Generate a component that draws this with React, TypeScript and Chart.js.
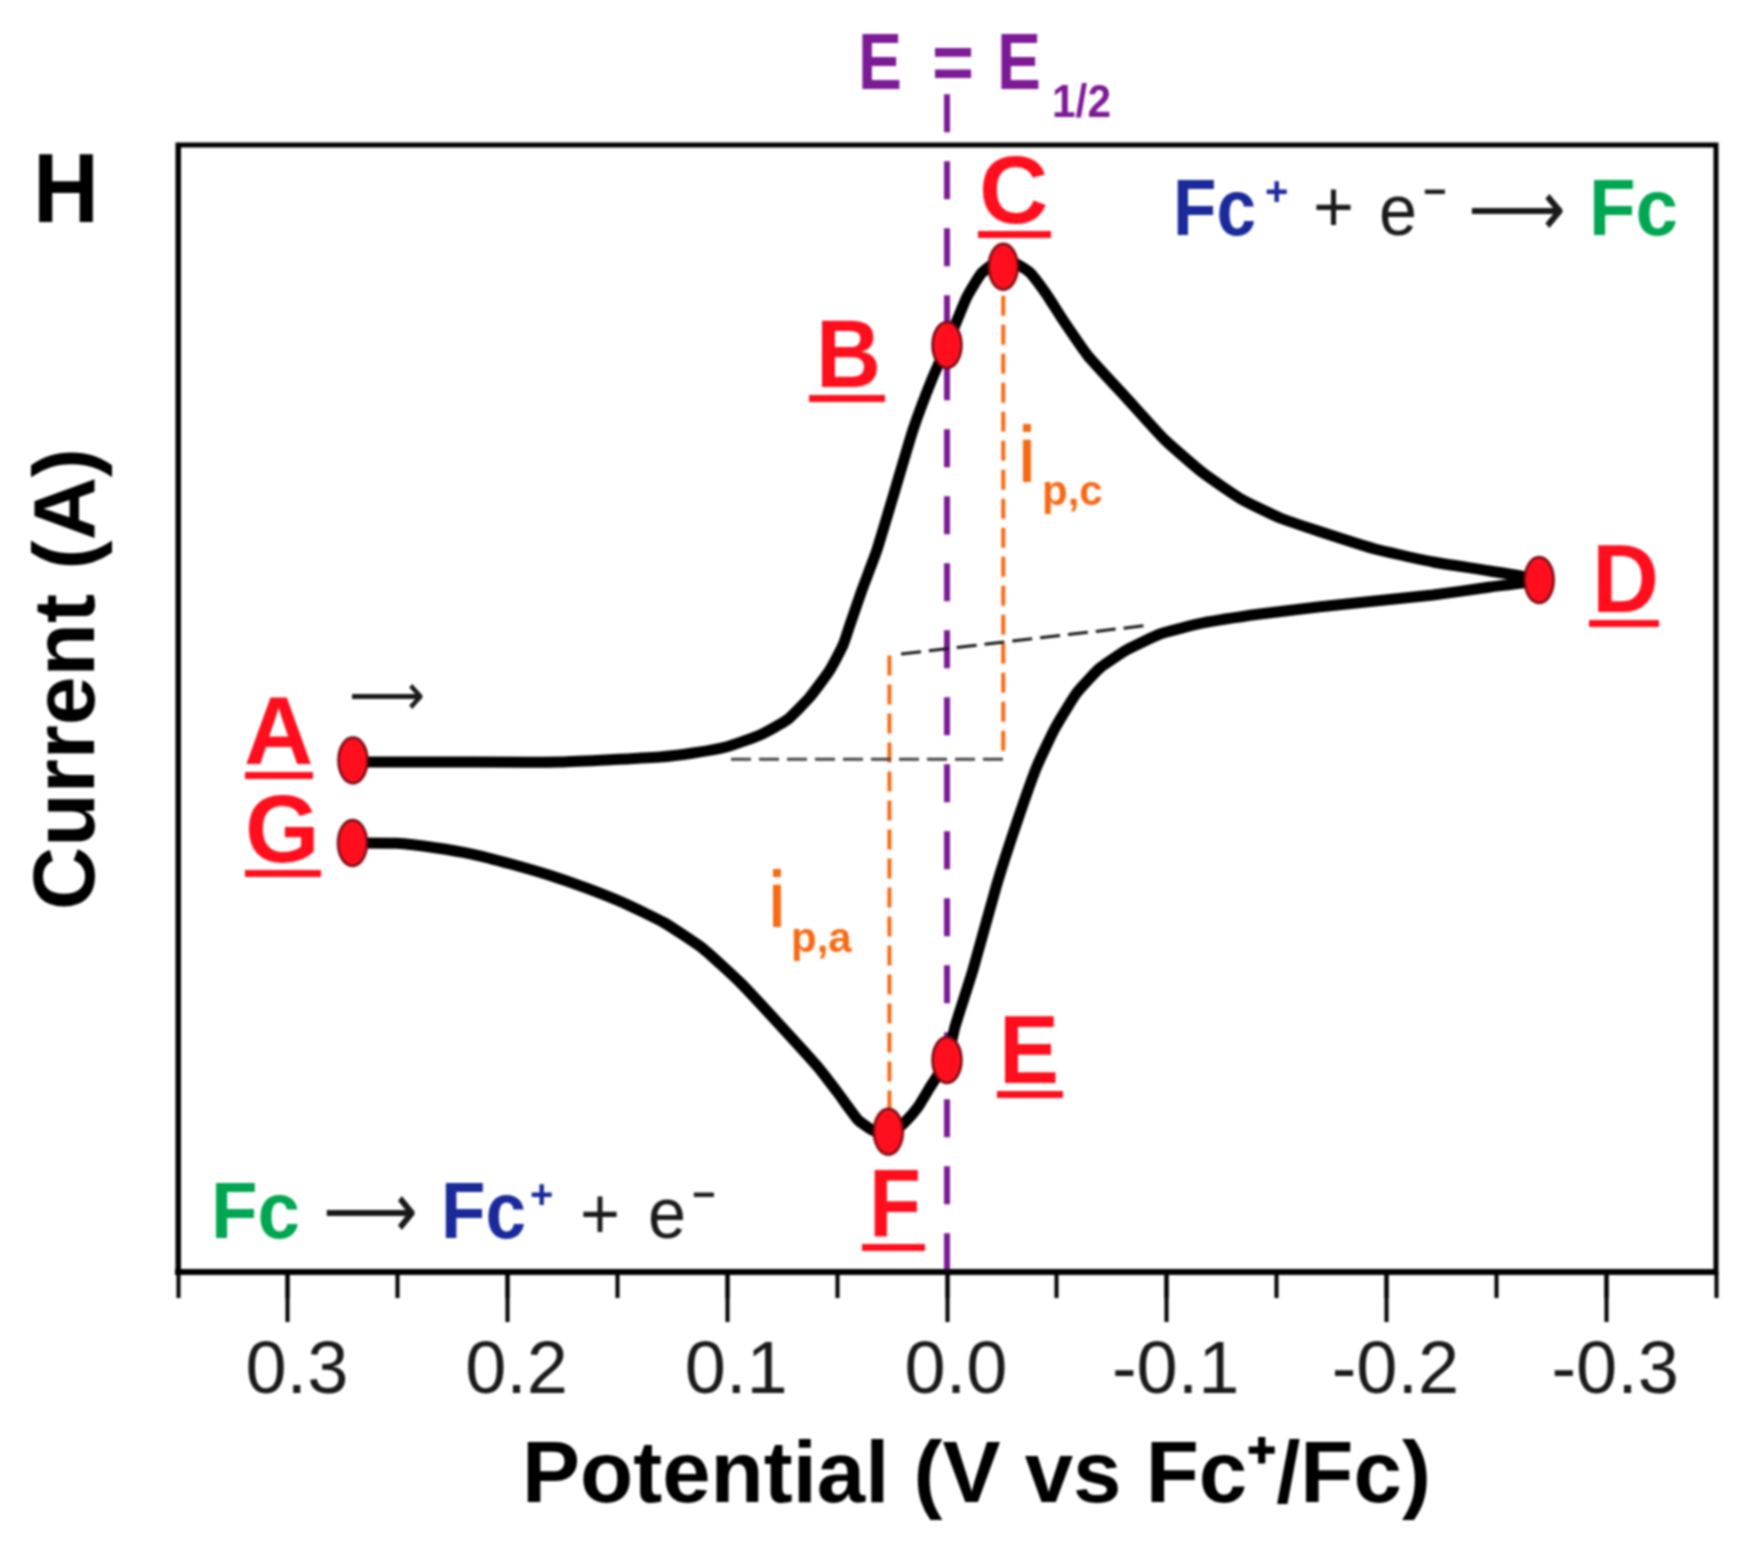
import React, { useEffect, useRef } from 'react'
import Chart from 'chart.js/auto'

// forward scan, A to D, then the return scan back to G
const cvPotential = [
  0.2704, 0.2262, 0.1762, 0.1306, 0.1156, 0.1001, 0.0851, 0.0728, 0.0624, 0.0533, 0.0473, 0.0442, 0.0387, 0.0319,
  0.0246, 0.0155, 0.007, 0, -0.009, -0.0158, -0.0256, -0.0373, -0.0449, -0.0528, -0.0642, -0.0817, -0.0992, -0.1165,
  -0.1338, -0.1516, -0.1689, -0.1948, -0.2212, -0.2472, -0.2695,
  -0.2472, -0.2212, -0.1948, -0.1689, -0.1425, -0.1165, -0.097, -0.0817, -0.0696, -0.059, -0.0492, -0.0408, -0.0317,
  -0.0226, -0.0118, -0.0036, 0, 0.0077, 0.0132, 0.0191, 0.0267, 0.0341, 0.0405, 0.0496, 0.0589, 0.0765, 0.0938,
  0.1112, 0.1288, 0.1461, 0.1634, 0.1809, 0.1985, 0.2157, 0.233, 0.2506, 0.2706
]
const cvCurrent = [
  45.25, 45.25, 45.25, 45.7, 46.05, 46.61, 47.65, 48.98, 51.02, 53.42, 55.63, 57.41, 60.51, 64.06,
  68.77, 74.71, 79.15, 82.25, 86.5, 88.64, 89.98, 88.76, 86.87, 84.47, 81.28, 77.55, 73.82, 70.9,
  68.59, 66.9, 65.75, 64.15, 63.0, 62.2, 61.4,
  60.78, 60.07, 59.54, 59.0, 58.38, 57.59, 56.61, 55.19, 53.59, 51.38, 48.27, 44.81, 39.84,
  34.34, 26.8, 21.74, 18.81, 16.41, 14.64, 13.31, 12.07, 12.6, 13.49, 15.88, 18.22, 22.01, 25.62,
  28.72, 31.0, 32.65, 34.01, 35.2, 36.2, 37.06, 37.65, 38.04, 38.07
]

const pointNames = ['A', 'B', 'C', 'D', 'E', 'F', 'G']
const pointPotential = [0.2704, 0, -0.0256, -0.2695, 0, 0.0267, 0.2706]
const pointCurrent = [45.4, 82.25, 89.2, 61.4, 18.81, 12.45, 38.07]

const halfWavePotential = [0, 0]
const halfWaveCurrent = [104.5, 0]

const peakCathodicPotential = [-0.0256, -0.0256]
const peakCathodicCurrent = [89.2, 45.5]
const peakAnodicPotential = [0.0262, 0.0262]
const peakAnodicCurrent = [54.7, 12.45]

const baselineForwardPotential = [0.0983, -0.0287]
const baselineForwardCurrent = [45.5, 45.5]
const baselineReturnPotential = [0.0209, -0.0924]
const baselineReturnCurrent = [54.84, 57.4]

const tickValues = [0.3, 0.2, 0.1, 0, -0.1, -0.2, -0.3]

const RED = '#ff0f1e'
const PURPLE = '#7d1a95'
const ORANGE = '#f56a14'
const BLUE = '#1a2a9a'
const GREEN = '#00a651'
const INK = '#1a1a1a'
const SANS = '"Liberation Sans", Arial, sans-serif'

const texts = [
  { t: 'H', x: 33, y: 222, size: 98, w: 66, bold: true, color: '#000' },
  { t: 'E', x: 858, y: 89, size: 80, w: 44, bold: true, color: PURPLE },
  { t: '=', x: 932, y: 89, size: 80, w: 42, bold: true, color: PURPLE },
  { t: 'E', x: 997, y: 89, size: 80, w: 44, bold: true, color: PURPLE },
  { t: '1/2', x: 1052, y: 117, size: 46, w: 59, bold: true, color: PURPLE },

  { t: 'Fc', x: 1173, y: 235, size: 79, w: 83, bold: true, color: BLUE },
  { t: '+', x: 1265, y: 205, size: 40, w: 24, bold: true, color: BLUE },
  { t: '+', x: 1313, y: 231, size: 72, w: 41, bold: false, color: INK },
  { t: 'e', x: 1379, y: 235, size: 72, w: 38, bold: false, color: INK },
  { t: '\u2212', x: 1423, y: 205, size: 40, w: 24, bold: true, color: INK },
  { t: '\u27f6', x: 1468, y: 236, size: 80, w: 98, bold: false, color: INK },
  { t: 'Fc', x: 1589, y: 235, size: 79, w: 89, bold: true, color: GREEN },

  { t: 'Fc', x: 211, y: 1238, size: 79, w: 89, bold: true, color: GREEN },
  { t: '\u27f6', x: 323, y: 1238, size: 80, w: 95, bold: false, color: INK },
  { t: 'Fc', x: 441, y: 1238, size: 79, w: 85, bold: true, color: BLUE },
  { t: '+', x: 530, y: 1208, size: 40, w: 24, bold: true, color: BLUE },
  { t: '+', x: 580, y: 1238, size: 72, w: 40, bold: false, color: INK },
  { t: 'e', x: 648, y: 1238, size: 72, w: 38, bold: false, color: INK },
  { t: '\u2212', x: 692, y: 1208, size: 40, w: 25, bold: true, color: INK },

  { t: '\u27f6', x: 349, y: 715, size: 60, w: 76, bold: false, color: INK },

  { t: 'i', x: 1019, y: 482, size: 80, w: 16, bold: true, color: ORANGE },
  { t: 'p,c', x: 1042, y: 505, size: 42, w: 61, bold: true, color: ORANGE },
  { t: 'i', x: 769, y: 927, size: 80, w: 16, bold: true, color: ORANGE },
  { t: 'p,a', x: 791, y: 952, size: 42, w: 63, bold: true, color: ORANGE },

  { t: 'Potential (V vs Fc\u207a/Fc)', x: 522, y: 1502, size: 87, w: 926, bold: true, color: '#000' }
]

// letter and underline of each labelled point, same order as pointNames
const letters = [
  { x: 244, y: 764, w: 74, u0: 245, u1: 313 },
  { x: 816, y: 387, w: 65, u0: 809, u1: 885 },
  { x: 979, y: 223, w: 70, u0: 978, u1: 1051 },
  { x: 1592, y: 612, w: 67, u0: 1589, u1: 1659 },
  { x: 999, y: 1083, w: 60, u0: 997, u1: 1063 },
  { x: 869, y: 1236, w: 52, u0: 862, u1: 925 },
  { x: 245, y: 862, w: 75, u0: 245, u1: 321 }
]

const frameAndText = {
  id: 'frameAndText',
  afterDatasetsDraw(chart: Chart) {
    const { ctx, chartArea: a } = chart
    ctx.save()

    ctx.strokeStyle = '#000'
    ctx.lineWidth = 5
    ctx.strokeRect(a.left, a.top, a.right - a.left, a.bottom - a.top)

    ctx.textAlign = 'left'
    ctx.textBaseline = 'alphabetic'
    for (const it of texts) {
      ctx.font = `${it.bold ? 'bold ' : ''}${it.size}px ${SANS}`
      ctx.fillStyle = it.color
      ctx.fillText(it.t, it.x, it.y, it.w)
    }

    pointNames.forEach((name, i) => {
      const l = letters[i]
      ctx.font = `bold 96px ${SANS}`
      ctx.fillStyle = RED
      ctx.fillText(name, l.x, l.y, l.w)
      ctx.fillRect(l.u0, l.y + 8, l.u1 - l.u0, 7)
    })

    ctx.translate(94, 910)
    ctx.rotate(-Math.PI / 2)
    ctx.font = `bold 88px ${SANS}`
    ctx.fillStyle = '#000'
    ctx.fillText('Current (A)', 0, 0, 462)

    ctx.restore()
  }
}

function ellipseMarker() {
  const c = document.createElement('canvas')
  c.width = 36
  c.height = 52
  const g = c.getContext('2d')!
  g.beginPath()
  g.ellipse(18, 26, 14.5, 23, 0, 0, Math.PI * 2)
  g.fillStyle = RED
  g.fill()
  g.lineWidth = 2.5
  g.strokeStyle = '#7a0a12'
  g.stroke()
  return c
}

const toXY = (xs: number[], ys: number[]) => xs.map((x, i) => ({ x, y: ys[i] }))

export default function App() {
  const ref = useRef<HTMLCanvasElement | null>(null)

  useEffect(() => {
    if (!ref.current) return
    const chart = new Chart(ref.current, {
      type: 'scatter',
      data: {
        // first dataset ends up on top
        datasets: [
          {
            label: 'points',
            data: toXY(pointPotential, pointCurrent),
            showLine: false,
            pointStyle: ellipseMarker(),
            pointRadius: 20,
            clip: false
          },
          {
            label: 'CV',
            data: toXY(cvPotential, cvCurrent),
            showLine: true,
            borderColor: '#000',
            borderWidth: 11,
            tension: 0.15,
            pointRadius: 0
          },
          {
            label: 'baseline forward',
            data: toXY(baselineForwardPotential, baselineForwardCurrent),
            showLine: true,
            borderColor: '#444',
            borderWidth: 3,
            borderDash: [20, 8],
            pointRadius: 0
          },
          {
            label: 'baseline return',
            data: toXY(baselineReturnPotential, baselineReturnCurrent),
            showLine: true,
            borderColor: INK,
            borderWidth: 3,
            borderDash: [20, 8],
            pointRadius: 0
          },
          {
            label: 'ip,c',
            data: toXY(peakCathodicPotential, peakCathodicCurrent),
            showLine: true,
            borderColor: ORANGE,
            borderWidth: 4,
            borderDash: [20, 9],
            pointRadius: 0
          },
          {
            label: 'ip,a',
            data: toXY(peakAnodicPotential, peakAnodicCurrent),
            showLine: true,
            borderColor: ORANGE,
            borderWidth: 4,
            borderDash: [20, 9],
            pointRadius: 0
          },
          {
            label: 'E1/2',
            data: toXY(halfWavePotential, halfWaveCurrent),
            showLine: true,
            borderColor: PURPLE,
            borderWidth: 6,
            borderDash: [38, 29],
            pointRadius: 0,
            clip: false
          }
        ]
      },
      options: {
        responsive: false,
        animation: false,
        layout: { padding: { top: 145, right: 48, left: 0, bottom: 0 } },
        plugins: { legend: { display: false }, tooltip: { enabled: false } },
        scales: {
          x: {
            type: 'linear',
            min: -0.35,
            max: 0.35,
            reverse: true,
            border: { display: true, color: '#000', width: 6 },
            grid: { drawOnChartArea: false, tickLength: 50, tickWidth: 4, tickColor: '#000' },
            afterBuildTicks: (scale: any) => {
              scale.ticks = tickValues.map((value) => ({ value }))
            },
            afterFit: (scale: any) => {
              scale.height = 276
            },
            ticks: {
              autoSkip: false,
              maxRotation: 0,
              includeBounds: false,
              labelOffset: 9,
              padding: 6,
              color: INK,
              font: { family: SANS, size: 74 },
              callback: (v: any) => Number(v).toFixed(1)
            }
          },
          xMinor: {
            type: 'linear',
            axis: 'x',
            position: 'bottom',
            weight: -1,
            min: -0.35,
            max: 0.35,
            reverse: true,
            border: { display: false },
            grid: { drawOnChartArea: false, tickLength: 26, tickWidth: 4, tickColor: '#000' },
            ticks: { stepSize: 0.05, display: false },
            afterFit: (scale: any) => {
              scale.height = 0
            }
          },
          y: {
            type: 'linear',
            min: 0,
            max: 100,
            border: { display: true, color: '#000', width: 5 },
            grid: { display: false },
            ticks: { display: false },
            afterFit: (scale: any) => {
              scale.width = 178
            }
          }
        }
      },
      plugins: [frameAndText]
    } as any)
    return () => chart.destroy()
  }, [])

  return (
    <div style={{ position: 'absolute', left: 0, top: 0, width: 1764, height: 1548, background: '#fff' }}>
      <canvas ref={ref} width={1764} height={1548} style={{ display: 'block', filter: 'blur(1px)' }} />
    </div>
  )
}
